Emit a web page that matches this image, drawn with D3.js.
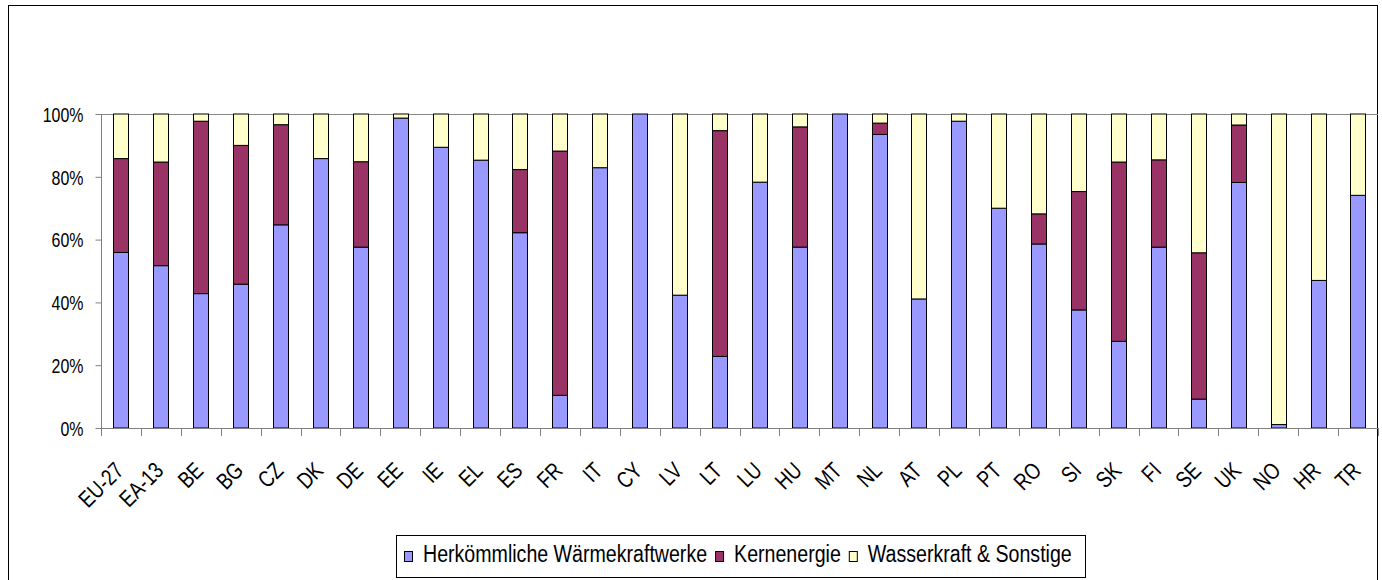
<!DOCTYPE html>
<html>
<head>
<meta charset="utf-8">
<script src="https://cdn.jsdelivr.net/npm/d3@7/dist/d3.min.js"></script>
<style>
  body { margin: 0; background: #fff; }
  text { font-family: "Liberation Sans", Arial, sans-serif; fill: #000; }
</style>
</head>
<body>
<div id="chart"></div>
<script>
var width = 1382;
var height = 580;

var categories = ["EU-27","EA-13","BE","BG","CZ","DK","DE","EE","IE","EL","ES","FR","IT","CY","LV","LT",
  "LU","HU","MT","NL","AT","PL","PT","RO","SI","SK","FI","SE","UK","NO","HR","TR"];

// shares in %
var conventional = [55.9,51.7,42.8,45.8,64.7,85.8,57.6,98.7,89.4,85.3,62.2,10.4,82.9,100,42.3,22.8,
  78.3,57.6,100,93.5,41.1,97.7,70.0,58.6,37.6,27.6,57.6,9.2,78.2,1.1,47.0,74.1];
var nuclear = [29.9,33.0,54.9,44.2,31.9,0,27.2,0,0,0,20.1,77.8,0,0,0,71.9,
  0,38.3,0,3.6,0,0,0,9.6,37.7,57.1,27.8,46.6,18.3,0,0,0];
var hydro = [14.2,15.3,2.3,10.0,3.4,14.2,15.2,1.3,10.6,14.7,17.7,11.8,17.1,0,57.7,5.3,
  21.7,4.1,0,2.9,58.9,2.3,30.0,31.8,24.7,15.3,14.6,44.2,3.5,98.9,53.0,25.9];

var seriesNames = ["Herkömmliche Wärmekraftwerke", "Kernenergie", "Wasserkraft & Sonstige"];
var seriesColors = ["#9999ff", "#993366", "#ffffcc"];
var yTicks = [0, 20, 40, 60, 80, 100];

var margin = {top: 114, right: 4, bottom: 152, left: 101};
var narrow = 0.76; // the original font is squeezed sideways

var rows = categories.map(function(c, i){
  return {cat: c, s0: conventional[i], s1: nuclear[i], s2: hydro[i]};
});

var svg = d3.select("#chart").append("svg")
  .attr("width", width)
  .attr("height", height);

// outer chart frame
svg.append("rect")
  .attr("x", 8.5).attr("y", 5.5)
  .attr("width", 1369).attr("height", 600)
  .attr("fill", "none").attr("stroke", "#000").attr("stroke-width", 1);

var x = d3.scaleBand()
  .domain(categories)
  .range([margin.left, width - margin.right])
  .paddingInner(0.62).paddingOuter(0.31);

var y = d3.scaleLinear()
  .domain([0, 100])
  .range([height - margin.bottom, margin.top]);

// 100% line
svg.append("line")
  .attr("x1", margin.left).attr("x2", width - margin.right)
  .attr("y1", Math.round(y(100)) + 0.5).attr("y2", Math.round(y(100)) + 0.5)
  .attr("stroke", "#888").attr("stroke-width", 1);

var stack = d3.stack().keys(["s0", "s1", "s2"]);
var layers = stack(rows);

svg.selectAll("g.layer")
  .data(layers)
  .enter().append("g")
  .attr("class", "layer")
  .attr("fill", function(d, i){ return seriesColors[i]; })
  .selectAll("rect")
  .data(function(d){ return d.filter(function(p){ return p[1] - p[0] > 0; }); })
  .enter().append("rect")
  .attr("x", function(d){ return Math.round(x(d.data.cat)) + 0.5; })
  .attr("width", Math.round(x.bandwidth()))
  .attr("y", function(d){ return y(d[1]); })
  .attr("height", function(d){ return y(d[0]) - y(d[1]); })
  .attr("stroke", "#000")
  .attr("stroke-width", 1);

// y axis
var yAxis = svg.append("g")
  .attr("transform", "translate(" + (margin.left + 0.5) + ",0)")
  .call(d3.axisLeft(y).tickValues(yTicks).tickSize(6)
    .tickFormat(function(d){ return d + "%"; }));
yAxis.selectAll("line, path").attr("stroke", "#808080");
yAxis.select(".domain").attr("d", "M0," + y(0) + "V" + y(100));
yAxis.selectAll("text")
  .attr("x", 0)
  .attr("dy", "0.35em")
  .attr("transform", "translate(-18,0) scale(" + narrow + ",1)")
  .style("font-size", "21px");

// x axis: ticks at the category boundaries
var step = x.step();
var bounds = d3.range(categories.length + 1).map(function(i){ return margin.left + i * step; });
var xg = svg.append("g");
xg.append("line")
  .attr("x1", margin.left).attr("x2", width - margin.right)
  .attr("y1", y(0) + 0.5).attr("y2", y(0) + 0.5)
  .attr("stroke", "#808080");
xg.selectAll("line.tick")
  .data(bounds)
  .enter().append("line")
  .attr("class", "tick")
  .attr("x1", function(d){ return Math.round(d) + 0.5; })
  .attr("x2", function(d){ return Math.round(d) + 0.5; })
  .attr("y1", y(0)).attr("y2", y(0) + 8)
  .attr("stroke", "#808080");

svg.append("g")
  .selectAll("text")
  .data(categories)
  .enter().append("text")
  .attr("transform", function(d){
    return "translate(" + (x(d) + x.bandwidth() / 2 + 4) + "," + (y(0) + 44) + ") rotate(-45) scale(0.8,1)";
  })
  .attr("text-anchor", "end")
  .style("font-size", "23px")
  .text(function(d){ return d; });

// legend
var legend = svg.append("g").attr("transform", "translate(396,535)");
legend.append("rect")
  .attr("x", 0.5).attr("y", 0.5)
  .attr("width", 689).attr("height", 42)
  .attr("fill", "#fff").attr("stroke", "#000");

var lx = 8;
seriesNames.forEach(function(name, i){
  legend.append("rect")
    .attr("x", lx + 0.5).attr("y", 16.5)
    .attr("width", 8).attr("height", 10)
    .attr("fill", seriesColors[i]).attr("stroke", "#000");
  var t = legend.append("text")
    .attr("transform", "translate(" + (lx + 19) + ",27.3) scale(0.8,1)")
    .style("font-size", "24.5px")
    .text(name);
  lx += 19 + t.node().getComputedTextLength() * 0.8 + 8;
});
</script>
</body>
</html>
